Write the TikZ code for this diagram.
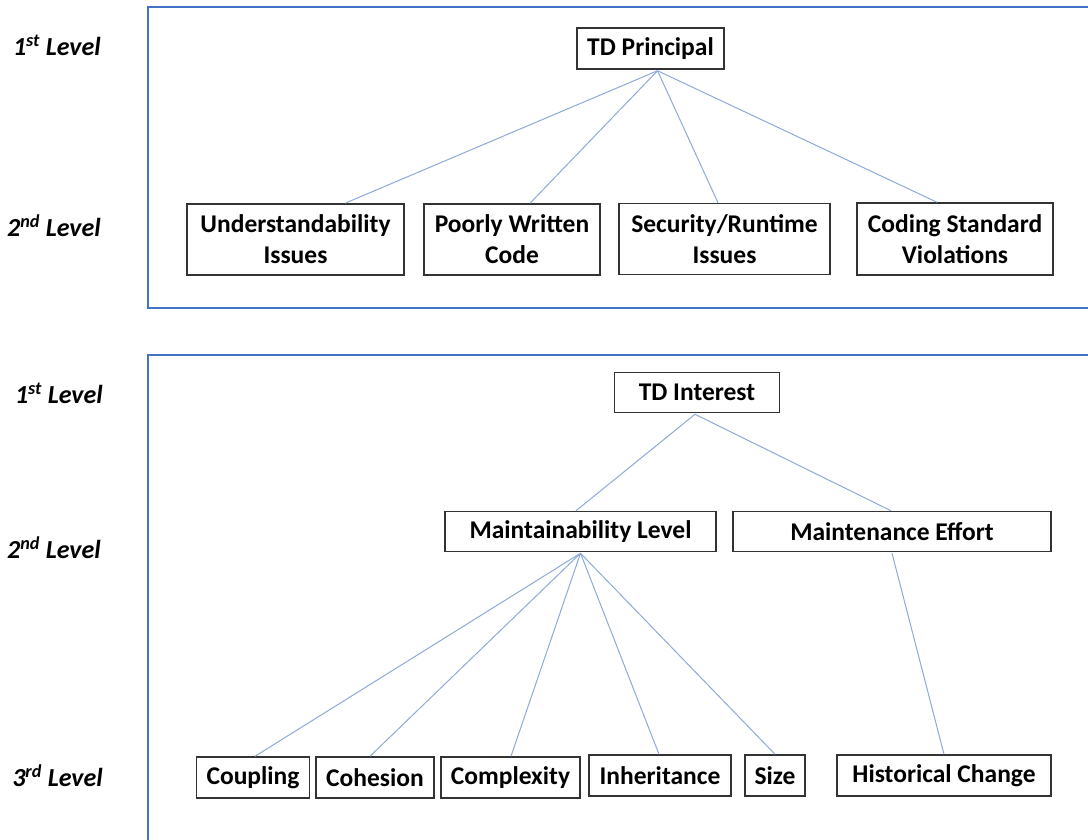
\documentclass[tikz,border=0pt]{standalone}
\usepackage{fontspec}
\setmainfont{Carlito}
\usetikzlibrary{calc}
\definecolor{framecol}{HTML}{4472C4}
\definecolor{linkcol}{HTML}{8EAADB}
\definecolor{boxcol}{HTML}{333333}
\begin{document}
\begin{tikzpicture}[x=1pt,y=-1pt,
  tbox/.style={draw=boxcol,line width=1.5pt,inner sep=0pt,align=center,
    font=\fontsize{25.5}{31}\selectfont\bfseries},
  lvl/.style={anchor=east,inner sep=0pt,font=\fontsize{26}{30}\selectfont\bfseries\itshape},
  frame/.style={draw=framecol,line width=1.2pt},
  link/.style={draw=linkcol,line width=1pt}]
\useasboundingbox (0,0) rectangle (1088,839);
\clip (0,0) rectangle (1088,839);
\fill[white] (0,0) rectangle (1088,839);
% frames
\draw[frame] (1100,7) -- (148,7) -- (148,308) -- (1100,308);
\draw[frame] (1100,355) -- (148,355) -- (148,850);
% level labels
\node[lvl] (l1a) at (101,45) {1\textsuperscript{st} Level};
\node[lvl] (l2a) at (101,226) {2\textsuperscript{nd} Level};
\node[lvl] (l1b) at (103,393) {1\textsuperscript{st} Level};
\node[lvl] (l2b) at (101,548) {2\textsuperscript{nd} Level};
\node[lvl] (l3b) at (103,776) {3\textsuperscript{rd} Level};
% top tree
\node[tbox,minimum width=147,minimum height=41] (tdp) at (650.5,48.5) {TD Principal};
\node[tbox,minimum width=217,minimum height=71] (u) at (295.5,239.5) {Understandability\\Issues};
\node[tbox,minimum width=176,minimum height=71] (p) at (512,239.5) {Poorly Written\\Code};
\node[tbox,minimum width=211,minimum height=71] (s) at (724.5,239) {Security/Runtime\\Issues};
\node[tbox,minimum width=196,minimum height=72] (c) at (955,239) {Coding Standard\\Violations};
\coordinate (tdpo) at ($(tdp.south)+(7,1)$);
\draw[link] (tdpo) -- ($(u.north)+(49.5,0)$);
\draw[link] (tdpo) -- ($(p.north)+(18,0)$);
\draw[link] (tdpo) -- ($(s.north)+(-6.5,0)$);
\draw[link] (tdpo) -- ($(c.north)+(-18,0)$);
% bottom tree
\node[tbox,minimum width=165,minimum height=40] (tdi) at (697,392.5) {TD Interest};
\node[tbox,minimum width=271,minimum height=40] (ml) at (580.5,531.5) {Maintainability Level};
\node[tbox,minimum width=318,minimum height=40] (me) at (892,531.5) {Maintenance Effort};
\node[tbox,minimum width=113,minimum height=41] (coup) at (253,777.5) {Coupling};
\node[tbox,minimum width=118,minimum height=41] (coh) at (375,777.5) {Cohesion};
\node[tbox,minimum width=139,minimum height=41] (comp) at (510.5,777.5) {Complexity};
\node[tbox,minimum width=142,minimum height=41] (inh) at (660,775.5) {Inheritance};
\node[tbox,minimum width=60,minimum height=41] (size) at (775,775.5) {Size};
\node[tbox,minimum width=214,minimum height=41] (hist) at (944,775.5) {Historical Change};
\coordinate (tdio) at ($(tdi.south)+(-2,1)$);
\draw[link] (tdio) -- ($(ml.north)+(-4.5,0)$);
\draw[link] (tdio) -- ($(me.north)+(-1,0)$);
\coordinate (mlo) at ($(ml.south)+(0,1)$);
\draw[link] (mlo) -- ($(coup.north)+(2,0)$);
\draw[link] (mlo) -- ($(coh.north)+(-5,0)$);
\draw[link] (mlo) -- ($(comp.north)+(0.5,0)$);
\draw[link] (mlo) -- ($(inh.north)+(-1,0)$);
\draw[link] (mlo) -- (size.north);
\draw[link] ($(me.south)+(0,1)$) -- (hist.north);
\end{tikzpicture}
\end{document}
